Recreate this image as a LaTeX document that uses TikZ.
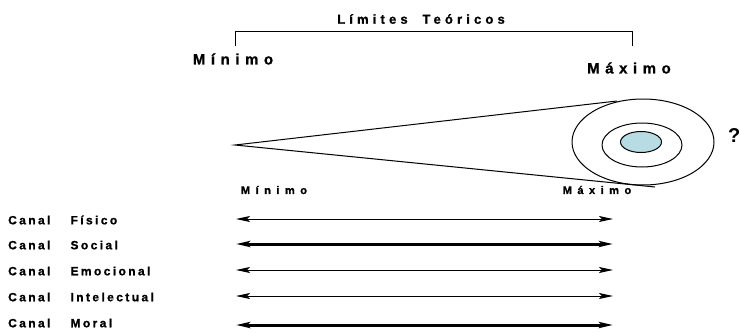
\documentclass[tikz,border=0pt]{standalone}
\usepackage{fontspec}
\setmainfont{Liberation Sans}
\newfontfamily\spaced[LetterSpace=20,WordSpace=3.5,FakeBold=1]{Liberation Sans Bold}
\newfontfamily\ttlfont[LetterSpace=32,WordSpace=1.9,FakeBold=1]{Liberation Sans Bold}
\newfontfamily\wide[LetterSpace=37,FakeBold=1]{Liberation Sans Bold}
\newfontfamily\widemid[LetterSpace=50,FakeBold=1]{Liberation Sans Bold}
\usetikzlibrary{arrows.meta, shapes.geometric}
\definecolor{blobblue}{RGB}{184,220,228}
\tikzset{
	lbl/.style={font=\spaced\fontsize{12}{13}\selectfont, anchor=west, inner sep=0pt},
	chan/.style={{Stealth[length=14pt,width=6pt,inset=3pt]}-{Stealth[length=14pt,width=6pt,inset=3pt]}, line width=1pt},
	chanthick/.style={chan, line width=3pt}
}
\begin{document}
\begin{tikzpicture}[x=1pt, y=-1pt]
	\useasboundingbox (0,0) rectangle (741,332);
	%\draw[help lines] (0,0) grid[step=50] (741,332);
	
	\node (titulo) [font=\ttlfont\fontsize{13}{14}\selectfont] at (421, 19) {Límites Teóricos};
	\coordinate (bl) at (235, 46);
	\coordinate (br) at (632, 46);
	\draw [line width=1pt] (bl) -- (235, 31) -- (632, 31) -- (br);
	\node (mintop) [font=\wide\fontsize{15}{16}\selectfont] at (233, 59) {Mínimo};
	\node (maxtop) [font=\wide\fontsize{15}{16}\selectfont] at (629, 68) {Máximo};
	
	% zoom de un punto
	\coordinate (apex) at (235, 145);
	\coordinate (up) at (617, 101);
	\coordinate (lo) at (655, 187);
	\draw [line width=1pt] (up) -- (apex) -- (lo);
	\node (outer) [draw, line width=1pt, ellipse, minimum width=142pt, minimum height=86pt, inner sep=0pt] at (643, 142) {};
	\node (middle) [draw, line width=1pt, ellipse, minimum width=80pt, minimum height=44pt, inner sep=0pt] at (642, 145) {};
	\node (inner) [draw, line width=1pt, fill=blobblue, ellipse, minimum width=41pt, minimum height=21pt, inner sep=0pt] at (641, 142) {};
	\node (pregunta) [font=\bfseries\fontsize{20}{21}\selectfont, anchor=east, inner sep=0pt] at (740.5, 136) {?};
	
	\node (minmid) [font=\widemid\fontsize{11}{12}\selectfont] at (274, 190) {Mínimo};
	\node (maxmid) [font=\widemid\fontsize{11}{12}\selectfont] at (597, 190) {Máximo};
	
	% canales
	\node (fisico) [lbl] at (8, 220) {Canal Físico};
	\node (social) [lbl] at (8, 245) {Canal Social};
	\node (emocional) [lbl] at (8, 271) {Canal Emocional};
	\node (intelectual) [lbl] at (8, 297) {Canal Intelectual};
	\node (moral) [lbl] at (8, 323) {Canal Moral};
	
	\coordinate (f1) at (236, 219);
	\coordinate (f2) at (613, 219);
	\draw [chan] (f1) -- (f2);
	\coordinate (s1) at (236, 244);
	\coordinate (s2) at (613, 244);
	\draw [chanthick] (s1) -- (s2);
	\coordinate (e1) at (236, 270);
	\coordinate (e2) at (613, 270);
	\draw [chan] (e1) -- (e2);
	\coordinate (i1) at (236, 296);
	\coordinate (i2) at (613, 296);
	\draw [chan] (i1) -- (i2);
	\coordinate (m1) at (236, 325);
	\coordinate (m2) at (613, 325);
	\draw [chanthick] (m1) -- (m2);
\end{tikzpicture}
\end{document}
